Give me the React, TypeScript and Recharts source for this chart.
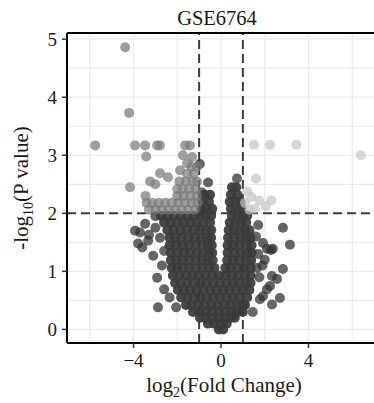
import React from 'react';
import { ScatterChart, Scatter, XAxis, YAxis, CartesianGrid, ReferenceLine } from 'recharts';

// axis ranges and ticks
const X_DOMAIN: [number, number] = [-7.04, 7.177];
const Y_DOMAIN: [number, number] = [-0.234, 5.106];
const xTicks = [-4, 0, 4];
const yTicks = [0, 1, 2, 3, 4, 5];
const gridX = [-6, -4, -2, 0, 2, 4, 6];
const gridY = [0, 0.5, 1, 1.5, 2, 2.5, 3, 3.5, 4, 4.5, 5];
const fcCut = [-1, 1];
const pCut = 2;

// non-significant genes: dense core, row by row [y, xs]
const nsRows: [number, number[]][] = [
  [0.0, [-0.1, 0.1]],
  [0.1, [-0.6, -0.3, 0, 0.26]],
  [0.2, [-0.96, -0.7, -0.4, -0.1, 0.2, 0.45, 0.63]],
  [0.3, [-1.28, -1.0, -0.7, -0.4, -0.1, 0.2, 0.5, 0.75, 1.0]],
  [0.42, [-1.6, -1.35, -1.05, -0.75, -0.45, -0.15, 0.15, 0.45, 0.75, 1.0, 1.1]],
  [0.55, [-1.82, -1.55, -1.25, -0.95, -0.65, -0.35, -0.05, 0.25, 0.55, 0.85, 1.2]],
  [0.68, [-1.97, -1.7, -1.4, -1.1, -0.8, -0.5, -0.2, 0.1, 0.4, 0.7, 1.0, 1.3]],
  [0.8, [-2.1, -1.85, -1.55, -1.25, -0.95, -0.65, -0.35, -0.05, 0.25, 0.55, 0.85, 1.15, 1.35]],
  [0.93, [-2.2, -1.9, -1.6, -1.3, -1.0, -0.7, -0.4, -0.1, 0.2, 0.5, 0.8, 1.1, 1.35]],
  [1.06, [-2.25, -2.0, -1.75, -1.45, -1.15, -0.85, -0.55, -0.3, 0.2, 0.45, 0.75, 1.05, 1.35]],
  [1.19, [-2.3, -2.05, -1.75, -1.45, -1.15, -0.85, -0.6, -0.38, 0.28, 0.55, 0.85, 1.15, 1.38]],
  [1.32, [-2.3, -2.0, -1.7, -1.4, -1.1, -0.8, -0.55, -0.4, 0.3, 0.6, 0.9, 1.2, 1.4]],
  [1.45, [-2.35, -2.05, -1.75, -1.45, -1.15, -0.85, -0.6, -0.42, 0.3, 0.55, 0.85, 1.15, 1.4]],
  [1.58, [-2.35, -2.1, -1.8, -1.5, -1.2, -0.9, -0.65, -0.45, 0.32, 0.6, 0.9, 1.15, 1.35]],
  [1.71, [-2.45, -2.15, -1.85, -1.55, -1.25, -0.95, -0.7, -0.45, 0.35, 0.6, 0.85, 1.1, 1.3]],
  [1.84, [-2.6, -2.3, -2.0, -1.7, -1.4, -1.1, -0.8, -0.5, 0.4, 0.65, 0.9, 1.15]],
  [1.96, [-2.75, -2.45, -2.15, -1.85, -1.55, -1.25, -0.95, -0.7, -0.45, 0.5, 0.75, 1.0, 1.2]],
  [2.08, [-0.9, -0.65, -0.4, 0.45, 0.7, 0.95]],
  [2.2, [-0.85, -0.55, 0.4, 0.65, 0.9]],
  [2.32, [-0.75, -0.5, 0.45, 0.75]],
  [2.45, [0.5, 0.7]],
];

// non-significant genes: scattered outliers [x, y]
const nsScatter: [number, number][] = [
  [-3.47, 1.82], [-3.93, 1.7], [-3.7, 1.67], [-3.29, 1.63], [-3.33, 1.53], [-3.79, 1.48],
  [-3.6, 1.41], [-2.79, 1.58], [-3.0, 1.75], [-3.1, 1.27], [-2.92, 0.89], [-2.6, 0.69],
  [-2.35, 0.55], [-2.88, 0.38], [-2.7, 1.1], [-3.0, 1.95], [-2.6, 1.35], [-2.05, 0.38],
  [-0.59, 2.53], [-0.97, 2.85], [0.73, 2.6], [-0.87, 2.36],
  [1.92, 1.49], [2.1, 1.39], [2.37, 1.39], [2.83, 1.04], [2.33, 0.92], [2.56, 0.87],
  [2.1, 0.69], [1.92, 0.57], [2.24, 0.75], [2.33, 0.43], [1.78, 0.52], [1.64, 1.06],
  [2.83, 1.75], [3.15, 1.46], [2.69, 0.54], [2.28, 1.37], [1.7, 1.8], [1.9, 1.1],
  [1.7, 1.3], [1.45, 0.3], [1.75, 0.9], [2.0, 1.2], [1.6, 1.6],
];

// down-regulated genes: rows [y, xs]
const downRows: [number, number[]][] = [
  [2.06, [-3.3, -3.0, -2.7, -2.4, -2.1, -1.8, -1.5, -1.2]],
  [2.18, [-3.4, -3.15, -2.85, -2.55, -2.25, -1.95, -1.65, -1.35, -1.08]],
  [2.3, [-3.45, -2.0, -1.7, -1.4, -1.1]],
  [2.42, [-2.0, -1.75, -1.45, -1.15]],
  [2.55, [-1.9, -1.6, -1.3, -1.1]],
  [2.68, [-1.55, -1.25]],
  [2.8, [-1.35, -1.1]],
];

// down-regulated genes: scattered [x, y]
const downScatter: [number, number][] = [
  [-4.38, 4.86], [-4.2, 3.73], [-5.75, 3.17], [-3.93, 3.17], [-3.47, 3.17], [-2.92, 3.17],
  [-2.79, 3.17], [-1.64, 3.17], [-1.42, 3.17], [-3.42, 2.98], [-1.74, 3.0], [-1.32, 2.97],
  [-2.79, 2.69], [-2.42, 2.62], [-3.24, 2.55], [-3.0, 2.5], [-1.87, 2.74], [-1.55, 2.86],
  [-4.16, 2.45],
];

// up-regulated genes [x, y]
const upPoints: [number, number][] = [
  [1.51, 3.18], [2.24, 3.18], [3.45, 3.18], [6.39, 3.0], [1.6, 2.6], [1.75, 2.22],
  [2.3, 2.22], [2.05, 2.12], [1.2, 2.38], [1.1, 2.18], [1.38, 2.28], [1.3, 2.06], [1.55, 2.08],
];

const fromRows = (rows: [number, number[]][]) =>
  rows.flatMap(([y, xs]) => xs.map((x) => ({ x, y })));
const fromPairs = (pairs: [number, number][]) => pairs.map(([x, y]) => ({ x, y }));

const nsCore = fromRows(nsRows);
const nsOut = fromPairs(nsScatter);
const downData = [...fromRows(downRows), ...fromPairs(downScatter)];
const upData = fromPairs(upPoints);

const SERIF = "'Liberation Serif', 'Times New Roman', Times, serif";

const dot = (fill: string, opacity: number) => (props: any) =>
  props.cx == null ? <g /> : <circle cx={props.cx} cy={props.cy} r={5} fill={fill} fillOpacity={opacity} />;

const minus = (v: number) => (v < 0 ? `\u2212${Math.abs(v)}` : `${v}`);

export default function App() {
  const tickStyle = { fontFamily: SERIF, fontSize: 19, fill: '#1a1a1a' };
  return (
    <div style={{ position: 'absolute', left: 0, top: 0, width: 374, height: 403, overflow: 'hidden', background: '#fff' }}>
      <ScatterChart width={378} height={403} margin={{ top: 33, right: 0, bottom: 0, left: 0 }}>
        <CartesianGrid
          stroke="#ebebeb"
          strokeWidth={1.2}
          verticalValues={gridX}
          horizontalValues={gridY}
        />
        <XAxis
          type="number"
          dataKey="x"
          domain={X_DOMAIN}
          allowDataOverflow
          ticks={xTicks}
          tickFormatter={minus}
          height={60}
          tickSize={5}
          tickMargin={6}
          axisLine={{ stroke: '#000', strokeWidth: 2 }}
          tickLine={{ stroke: '#333', strokeWidth: 1.5 }}
          tick={tickStyle}
        />
        <YAxis
          type="number"
          dataKey="y"
          domain={Y_DOMAIN}
          allowDataOverflow
          ticks={yTicks}
          width={67}
          tickSize={5}
          tickMargin={5}
          axisLine={{ stroke: '#000', strokeWidth: 2 }}
          tickLine={{ stroke: '#333', strokeWidth: 1.5 }}
          tick={tickStyle}
        />
        <Scatter data={nsOut} isAnimationActive={false} shape={dot('#333333', 0.75)} />
        <Scatter data={nsCore} isAnimationActive={false} shape={dot('#3a3a3a', 0.93)} />
        <Scatter data={downData} isAnimationActive={false} shape={dot('#7a7a7a', 0.72)} />
        <Scatter data={upData} isAnimationActive={false} shape={dot('#c4c4c4', 0.7)} />
        {fcCut.map((v) => (
          <ReferenceLine key={`fc${v}`} x={v} stroke="#3c3c3c" strokeWidth={2} strokeDasharray="9 5" />
        ))}
        <ReferenceLine y={pCut} stroke="#3c3c3c" strokeWidth={2} strokeDasharray="9 5" />
        <ReferenceLine y={Y_DOMAIN[1]} stroke="#000" strokeWidth={2} />
      </ScatterChart>
      <svg width={374} height={403} style={{ position: 'absolute', left: 0, top: 0, pointerEvents: 'none' }}>
        <text x={217} y={25} textAnchor="middle" fontFamily={SERIF} fontSize={20.5} fill="#1a1a1a">GSE6764</text>
        <text x={224} y={392} textAnchor="middle" fontFamily={SERIF} fontSize={21} fill="#1a1a1a">
          <tspan>log</tspan>
          <tspan dy={5} fontSize={14}>2</tspan>
          <tspan dy={-5}>(Fold Change)</tspan>
        </text>
        <text
          x={28}
          y={188}
          transform="rotate(-90 28 188)"
          textAnchor="middle"
          fontFamily={SERIF}
          fontSize={21}
          fill="#1a1a1a"
        >
          <tspan>-log</tspan>
          <tspan dy={5} fontSize={14}>10</tspan>
          <tspan dy={-5}>(P value)</tspan>
        </text>
      </svg>
    </div>
  );
}
